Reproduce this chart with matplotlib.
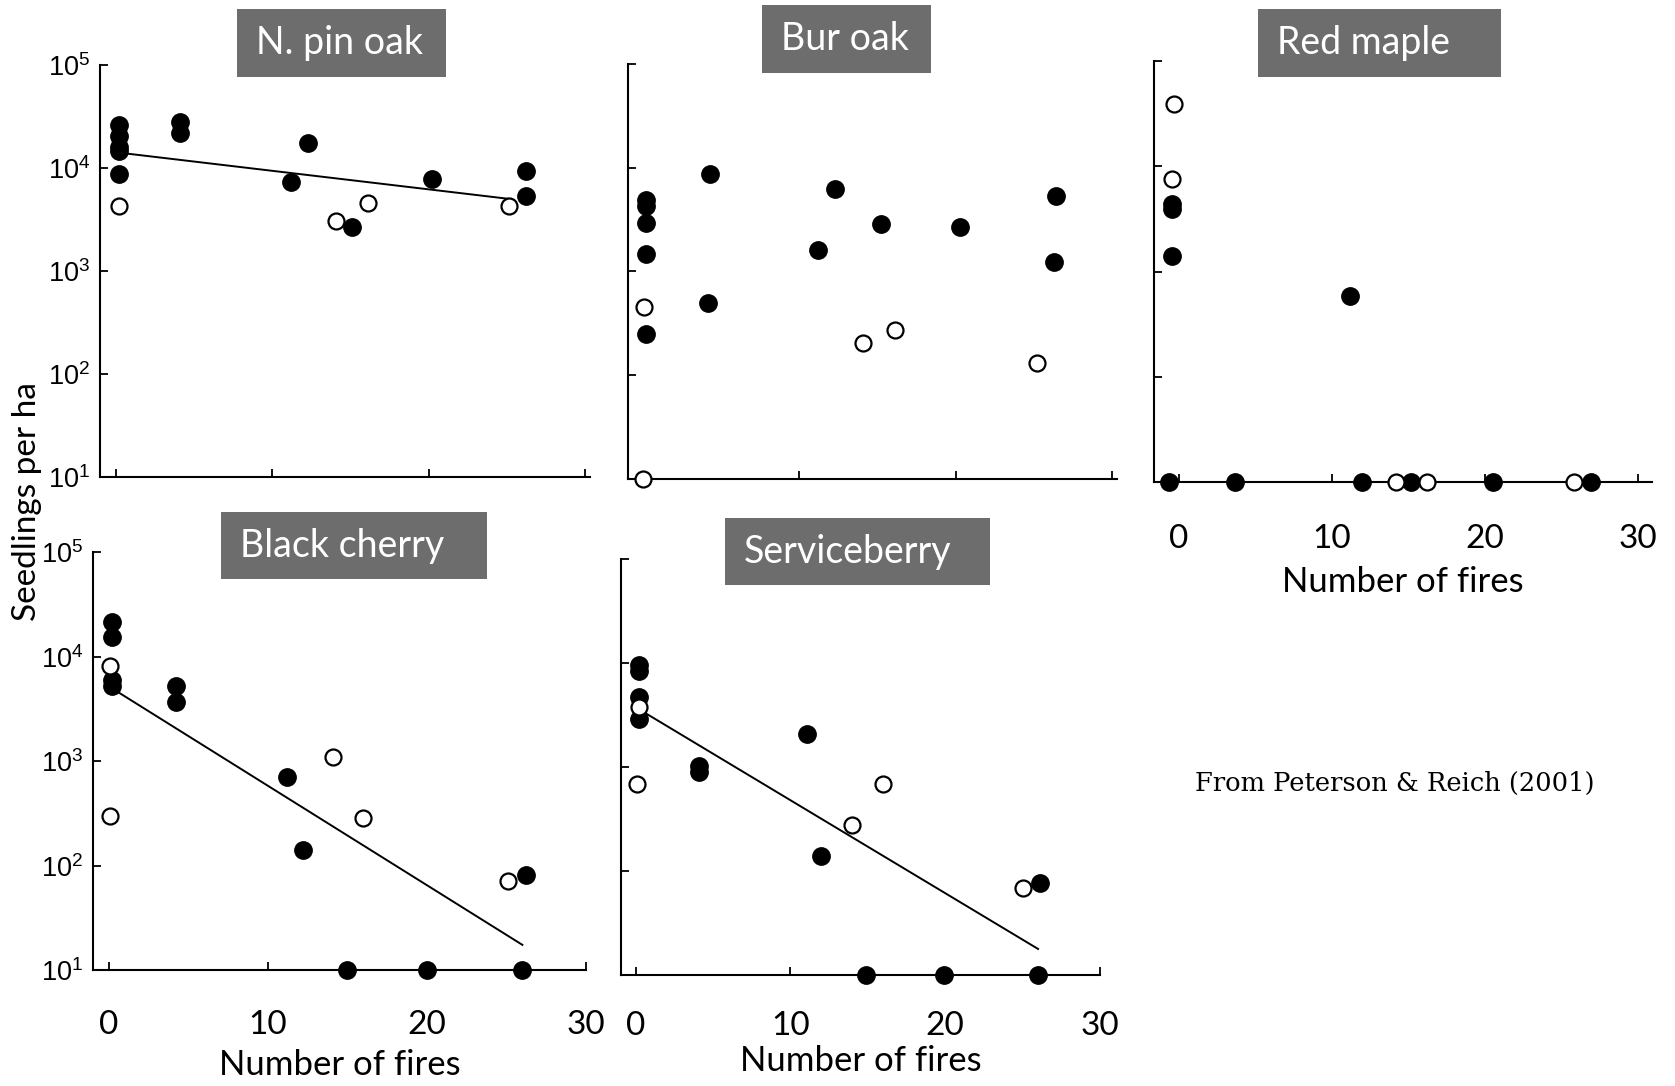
import matplotlib
matplotlib.use("Agg")
import matplotlib.pyplot as plt
from matplotlib.patches import Rectangle

plt.rcParams['font.family'] = ['Lato', 'DejaVu Sans']
plt.rcParams['mathtext.fontset'] = 'custom'
plt.rcParams['mathtext.rm'] = 'Liberation Sans'

# ---- data (x = number of fires, y = seedlings per ha) ----
# N. pin oak
pin_filled_x = [0.2, 0.2, 0.2, 0.2, 0.2, 4.1, 4.1, 11.2, 12.3, 15.1, 20.2, 26.2, 26.2]
pin_filled_y = [26000, 20500, 16000, 14500, 8700, 28000, 21800, 7300, 17400, 2700, 7900, 9400, 5350]
pin_open_x = [0.2, 14.1, 16.1, 25.1]
pin_open_y = [4300, 3030, 4550, 4300]
pin_fit_x = [0.2, 25.2]
pin_fit_y = [14100, 5000]

# Bur oak
bur_filled_x = [0.2, 0.2, 0.2, 0.2, 0.2, 4.3, 4.2, 11.2, 12.3, 15.2, 20.3, 26.4, 26.3]
bur_filled_y = [4900, 4270, 2950, 1480, 250, 8700, 500, 1620, 6300, 2900, 2700, 5400, 1230]
bur_open_x = [0.1, 0.0, 14.1, 16.1, 25.2]
bur_open_y = [450, 10, 205, 270, 130]

# Red maple
maple_filled_x = [-0.4, -0.4, -0.4, 11.2, -0.6, 3.7, 12.0, 15.2, 20.5, 26.9]
maple_filled_y = [4400, 3900, 1410, 590, 10, 10, 10, 10, 10, 10]
maple_open_x = [-0.3, -0.4, 14.2, 16.2, 25.8]
maple_open_y = [39000, 7600, 10, 10, 10]

# Black cherry
cherry_filled_x = [0.2, 0.2, 0.2, 0.2, 4.2, 4.2, 11.2, 12.2, 15.0, 20.0, 26.0, 26.2]
cherry_filled_y = [21400, 15200, 5900, 5200, 5200, 3650, 710, 142, 10, 10, 10, 81]
cherry_open_x = [0.1, 0.1, 14.1, 16.0, 25.1]
cherry_open_y = [8100, 295, 1100, 285, 71]
cherry_fit_x = [0.25, 26.0]
cherry_fit_y = [4900, 17.4]

# Serviceberry
service_filled_x = [0.2, 0.2, 0.2, 0.2, 4.1, 4.1, 11.1, 12.0, 14.9, 19.9, 26.0, 26.1]
service_filled_y = [9600, 8300, 4700, 2900, 1020, 890, 2080, 138, 10, 10, 10, 76]
service_open_x = [0.2, 0.1, 14.0, 16.0, 25.0]
service_open_y = [3800, 680, 275, 690, 68]
service_fit_x = [0.2, 26.0]
service_fit_y = [3600, 17.8]

y_ticks = [10, 100, 1000, 10000, 100000]
y_tick_labels = ['$10^{1}$', '$10^{2}$', '$10^{3}$', '$10^{4}$', '$10^{5}$']
x_ticks = [0, 10, 20, 30]

W, H = 1675, 1086
fig = plt.figure(figsize=(W / 100, H / 100), dpi=100)


def panel(l, r, t, b, xlim, ylabels=False, xlabels=False, tickpad=30, labelpad=9):
    ax = fig.add_axes([l / W, 1 - b / H, (r - l) / W, (b - t) / H])
    ax.set_yscale('log')
    ax.set_ylim(10, 1e5)
    ax.set_xlim(*xlim)
    ax.set_yticks(y_ticks)
    ax.minorticks_off()
    ax.set_xticks(x_ticks)
    for s in ['top', 'right']:
        ax.spines[s].set_visible(False)
    for s in ['left', 'bottom']:
        ax.spines[s].set_linewidth(1.5)
    ax.tick_params(direction='in', length=6, width=1.3, color='black')
    if ylabels:
        ax.set_yticklabels(y_tick_labels, fontsize=19.5)
        ax.tick_params(axis='y', pad=7)
    else:
        ax.set_yticklabels([])
    if xlabels:
        ax.set_xticklabels([str(v) for v in x_ticks], fontsize=24)
        ax.tick_params(axis='x', pad=tickpad)
        ax.set_xlabel('Number of fires', fontsize=25, labelpad=labelpad)
    else:
        ax.set_xticklabels([])
    return ax


def draw(ax, fx, fy, ox, oy, fitx=None, fity=None):
    if fitx is not None:
        ax.plot(fitx, fity, color='black', lw=1.4, zorder=2)
    ax.plot(fx, fy, 'o', ms=12.5, mfc='black', mec='black', zorder=3, clip_on=False)
    ax.plot(ox, oy, 'o', ms=11.5, mfc='white', mec='black', mew=1.6, zorder=4, clip_on=False)


ax1 = panel(100, 590, 65, 477, (-1.0, 30.3), ylabels=True)
draw(ax1, pin_filled_x, pin_filled_y, pin_open_x, pin_open_y, pin_fit_x, pin_fit_y)

ax2 = panel(628, 1117, 64, 479, (-0.93, 30.3))
draw(ax2, bur_filled_x, bur_filled_y, bur_open_x, bur_open_y)

ax3 = panel(1154, 1652, 61, 482, (-1.6, 30.9), xlabels=True)
draw(ax3, maple_filled_x, maple_filled_y, maple_open_x, maple_open_y)

ax4 = panel(93, 586, 552, 970, (-1.0, 30.0), ylabels=True, xlabels=True,
            tickpad=29, labelpad=6)
draw(ax4, cherry_filled_x, cherry_filled_y, cherry_open_x, cherry_open_y, cherry_fit_x, cherry_fit_y)

ax5 = panel(621, 1100, 559, 975, (-0.95, 29.6), xlabels=True, tickpad=26, labelpad=3)
draw(ax5, service_filled_x, service_filled_y, service_open_x, service_open_y, service_fit_x, service_fit_y)

# species labels in grey boxes
titles = [
    ('N. pin oak', 237, 446, 9, 77),
    ('Bur oak', 762, 931, 5, 73),
    ('Red maple', 1258, 1501, 9, 77),
    ('Black cherry', 221, 487, 512, 579),
    ('Serviceberry', 725, 990, 518, 585),
]
for name, l, r, t, b in titles:
    fig.patches.append(Rectangle((l / W, 1 - b / H), (r - l) / W, (b - t) / H,
                                 transform=fig.transFigure, facecolor='#6d6d6d',
                                 edgecolor='none', zorder=5))
    fig.text((l + 19) / W, 1 - (t + b) / 2 / H, name, color='white', fontsize=27,
             ha='left', va='center', zorder=6)

fig.text(27 / W, 1 - 502 / H, 'Seedlings per ha', rotation=90, fontsize=24,
         ha='center', va='center')
fig.text(1395 / W, 1 - 783 / H, 'From Peterson & Reich (2001)', fontsize=18.5,
         family='DejaVu Serif', ha='center', va='center')

fig.savefig('out.png', dpi=100, facecolor='white')
